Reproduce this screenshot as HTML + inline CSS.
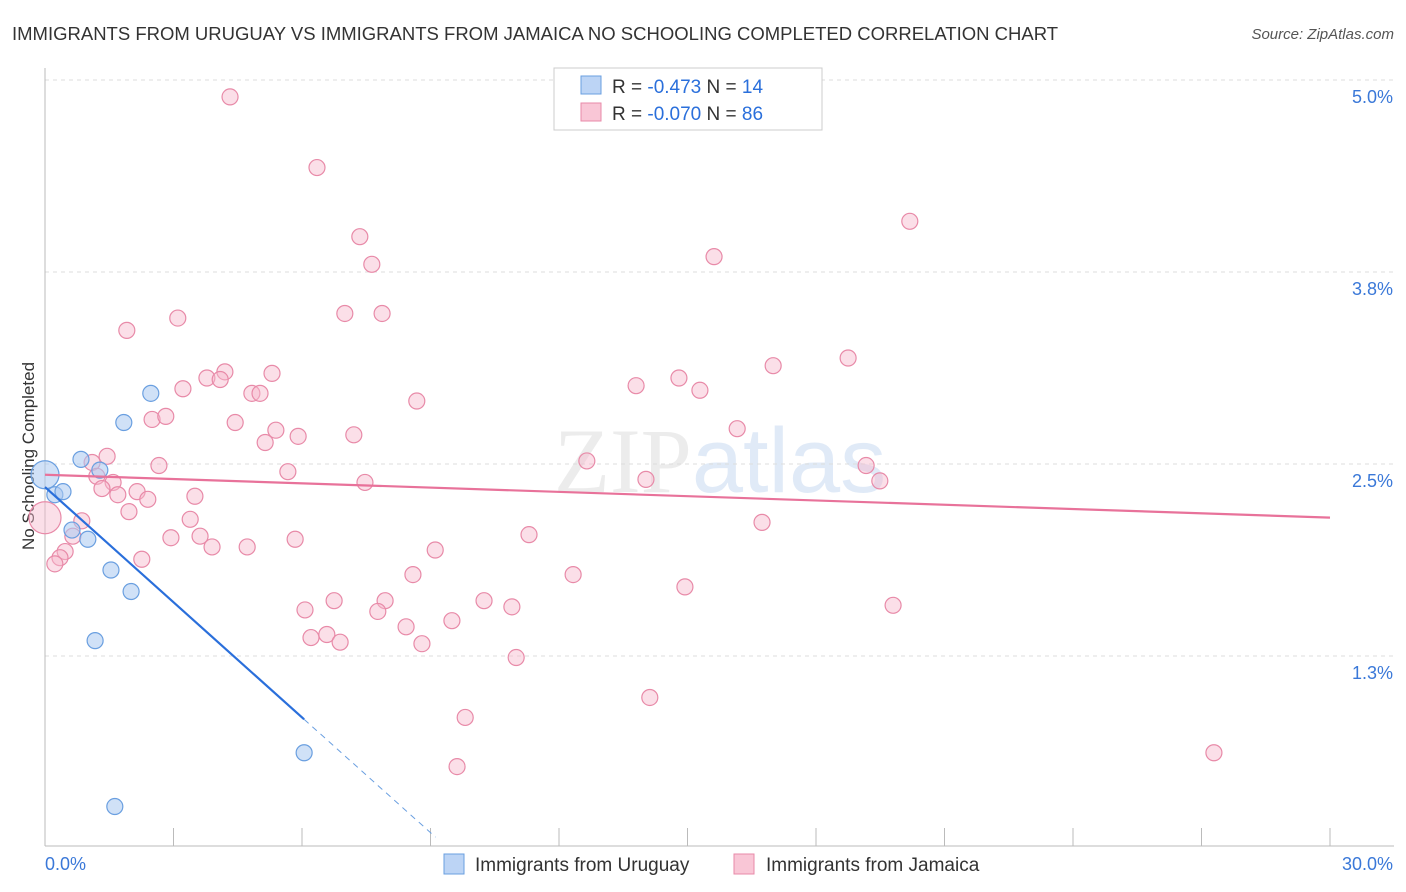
<!DOCTYPE html>
<html><head><meta charset="utf-8"><style>
body{margin:0;background:#fff;font-family:"Liberation Sans",sans-serif;}
svg{display:block}
</style></head><body>
<svg id="chart" width="1406" height="892" xmlns="http://www.w3.org/2000/svg" font-family="Liberation Sans, sans-serif">
<text x="12" y="40" font-size="18.5" fill="#333">IMMIGRANTS FROM URUGUAY VS IMMIGRANTS FROM JAMAICA NO SCHOOLING COMPLETED CORRELATION CHART</text>
<text x="1394" y="39" font-size="15" fill="#555" font-style="italic" text-anchor="end">Source: ZipAtlas.com</text>
<text transform="translate(34,456) rotate(-90)" font-size="17" fill="#333" text-anchor="middle">No Schooling Completed</text>
<g font-size="92" text-anchor="middle" opacity="0.18">
<text x="720" y="492" fill="#999" font-family="Liberation Serif, serif">ZIP<tspan fill="#5a8fd8" font-family="Liberation Sans, sans-serif">atlas</tspan></text>
</g>
<g id="grid"></g><g id="axes"></g><g id="pts"></g><g id="lines"></g>
<g>
<rect x="554" y="68" width="268" height="62" fill="#fff" stroke="#ccc"/>
<rect x="581" y="76" width="20" height="18" fill="#bcd4f5" stroke="#6a9fe0"/>
<rect x="581" y="103" width="20" height="18" fill="#f9c6d6" stroke="#e88aa8"/>
<text x="612" y="93" font-size="19" fill="#333">R = <tspan fill="#2a6fdb">-0.473</tspan>   N = <tspan fill="#2a6fdb">14</tspan></text>
<text x="612" y="120" font-size="19" fill="#333">R = <tspan fill="#2a6fdb">-0.070</tspan>   N = <tspan fill="#2a6fdb">86</tspan></text>
</g>
<g>
<rect x="444" y="854" width="20" height="20" fill="#bcd4f5" stroke="#6a9fe0"/>
<text x="475" y="871" font-size="19" fill="#333">Immigrants from Uruguay</text>
<rect x="734" y="854" width="20" height="20" fill="#f9c6d6" stroke="#e88aa8"/>
<text x="766" y="871" font-size="19" fill="#333">Immigrants from Jamaica</text>
</g>
</svg>
<script>
const xTicks=[0,3,6,9,12,15,18,21,24,27,30];
const yTicks=[1.25,2.5,3.75,5.0];
const yTickLabels=["1.3%","2.5%","3.8%","5.0%"];
const xTickLabels=["0.0%","30.0%"];
const uruguayX=[0,0.23,0.42,0.63,0.84,1.00,1.28,1.54,1.84,2.01,2.47,1.17,6.05,1.63];
const uruguayY=[2.43,2.30,2.32,2.07,2.53,2.01,2.46,1.81,2.77,1.67,2.96,1.35,0.62,0.27];
const jamaicaX=[4.32,6.35,20.19,7.35,15.62,7.63,1.91,3.10,7.00,7.87,18.75,17.00,4.20,5.30,3.78,4.09,13.80,14.80,15.29,3.22,4.83,5.02,8.68,2.50,2.82,4.44,5.39,16.16,7.21,5.91,5.14,1.45,1.10,2.66,5.67,12.65,19.17,19.49,14.03,7.47,1.21,1.59,1.33,2.15,1.70,3.50,2.40,1.96,3.39,0.86,16.74,0.65,11.30,2.94,3.62,5.84,3.90,4.72,9.11,0.47,0.35,2.26,0.23,0,8.59,12.33,14.94,6.75,7.94,10.25,6.07,10.90,19.80,7.77,9.50,8.43,6.21,6.58,6.89,8.80,11.00,14.12,9.81,27.29,9.62];
const jamaicaY=[4.89,4.43,4.08,3.98,3.85,3.80,3.37,3.45,3.48,3.48,3.19,3.14,3.10,3.09,3.06,3.05,3.01,3.06,2.98,2.99,2.96,2.96,2.91,2.79,2.81,2.77,2.72,2.73,2.69,2.68,2.64,2.55,2.51,2.49,2.45,2.52,2.49,2.39,2.40,2.38,2.42,2.38,2.34,2.32,2.30,2.29,2.27,2.19,2.14,2.13,2.12,2.03,2.04,2.02,2.03,2.01,1.96,1.96,1.94,1.93,1.89,1.88,1.85,2.15,1.78,1.78,1.70,1.61,1.61,1.61,1.55,1.57,1.58,1.54,1.48,1.44,1.37,1.39,1.34,1.33,1.24,0.98,0.85,0.62,0.53];
const uruguayTrend=[2.35,-0.25]; // intercept, slope
const jamaicaTrend=[2.43,-0.0093];
const NS="http://www.w3.org/2000/svg";
const X=v=>45+v/30*1285, Y=v=>848-v*153.6;
function mk(tag,attrs,parent){const e=document.createElementNS(NS,tag);for(const k in attrs)e.setAttribute(k,attrs[k]);document.getElementById(parent).appendChild(e);return e;}
mk('line',{x1:45,y1:80,x2:1394,y2:80,stroke:'#ddd','stroke-dasharray':'4,4'},'grid');
yTicks.forEach((t,i)=>{
 const l=mk('line',{x1:45,y1:Y(t),x2:1394,y2:Y(t),stroke:'#ddd','stroke-dasharray':'4,4'},'grid');
 
 
 const tx=mk('text',{x:1393,y:Y(t)+23,'font-size':18,fill:'#3a78d8','text-anchor':'end'},'axes');
 tx.textContent=yTickLabels[i];
 
 
});
mk('line',{x1:45,y1:68,x2:45,y2:846,stroke:'#bbb'},'axes');
mk('line',{x1:45,y1:846,x2:1394,y2:846,stroke:'#bbb'},'axes');
xTicks.forEach(t=>{
 const l=mk('line',{x1:X(t),y1:828,x2:X(t),y2:846,stroke:'#bbb'},'axes');
 
 
});
const xl0=mk('text',{x:45,y:870,'font-size':18,fill:'#3a78d8'},'axes');xl0.textContent=xTickLabels[0];


const xl1=mk('text',{x:1393,y:870,'font-size':18,fill:'#3a78d8','text-anchor':'end'},'axes');xl1.textContent=xTickLabels[1];


jamaicaX.forEach((x,i)=>{
 const c=mk('circle',{cx:X(x),cy:Y(jamaicaY[i]),r:x===0?16:8,fill:'#f6b8cc','fill-opacity':0.45,stroke:'#e88aa8','stroke-width':1.2},'pts');
 
 
});
uruguayX.forEach((x,i)=>{
 const c=mk('circle',{cx:X(x),cy:Y(uruguayY[i]),r:x===0?14:8,fill:'#a9c8f0','fill-opacity':0.55,stroke:'#6a9fe0','stroke-width':1.2},'pts');
 
 
});
const tj=v=>jamaicaTrend[0]+jamaicaTrend[1]*v, tu=v=>uruguayTrend[0]+uruguayTrend[1]*v;
const lj=mk('line',{x1:X(0),y1:Y(tj(0)),x2:X(30),y2:Y(tj(30)),stroke:'#e8729a','stroke-width':2.2},'lines');


const lu=mk('line',{x1:X(0),y1:Y(tu(0)),x2:X(6.05),y2:Y(tu(6.05)),stroke:'#2a6fdb','stroke-width':2.2},'lines');


const xe=-uruguayTrend[0]/uruguayTrend[1]*0.97;
const ld=mk('line',{x1:X(6.05),y1:Y(tu(6.05)),x2:X(xe),y2:Y(tu(xe)),stroke:'#6a9fe0','stroke-width':1,'stroke-dasharray':'6,5'},'lines');


</script>
</body></html>
